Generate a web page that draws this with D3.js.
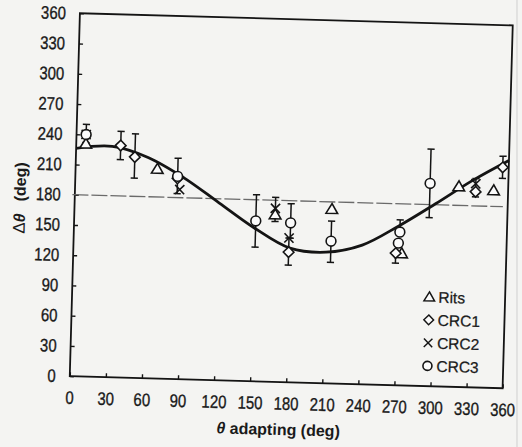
<!DOCTYPE html>
<html><head><meta charset="utf-8">
<script src="https://cdn.jsdelivr.net/npm/d3@7"></script>
<style>
html,body{margin:0;padding:0;background:#f4f4f2;}
svg{display:block;}
text{font-family:"Liberation Sans",Arial,Helvetica,sans-serif;fill:#1a1a1a;}
</style></head><body>
<svg id="chart" width="522" height="447"></svg>
<script>
// ---- data ----
const xTicks = [0,30,60,90,120,150,180,210,240,270,300,330,360];
const yTicks = [0,30,60,90,120,150,180,210,240,270,300,330,360];

const ritsX = [8, 68, 167, 214, 273, 319, 348];
const ritsY = [231, 208, 166, 173, 131, 199, 196];

const crc1X  = [37, 49, 85, 179, 268, 333, 355];
const crc1Y  = [230, 219, 199, 129, 131, 194, 219];
const crc1Lo = [216, 198, null, 116, 121, null, 208];
const crc1Hi = [244, 242, null, 143, null, null, 230];

const crc2X  = [8, 87, 167, 179, 333];
const crc2Y  = [240, 188, 172, 143, 202];
const crc2Lo = [null, null, 159, null, 189];
const crc2Hi = [null, null, 183, null, 207];

const crc3X  = [8, 85, 151, 180, 214, 271, 270, 295];
const crc3Y  = [240, 201, 159, 158, 141, 152, 141, 201];
const crc3Lo = [232, 184, 133, 143, 120, null, null, 167];
const crc3Hi = [250, 219, 185, 177, 161, 164, null, 235];

const fitX = [0, 30, 60, 90, 120, 150, 180, 210, 240, 270, 300, 330, 360];
const fitY = [226, 229, 219, 200, 176, 152, 133, 130, 138, 158, 181, 205, 226];

const refValue = 180;
const refFrom = -2, refTo = 356;

const legendLabels = ["Rits", "CRC1", "CRC2", "CRC3"];
const legendShapes = ["triangle", "diamond", "x", "circle"];

// ---- layout ----
const W = 522, H = 447;
const L = 74.75, R = 507.75, T = 19.25, B = 382.25;
const tilt = 1.6, cx = 291.25, cy = 200.75;

const x = d3.scaleLinear().domain([0, 360]).range([L, R]);
const y = d3.scaleLinear().domain([0, 360]).range([B, T]);

const svg = d3.select("#chart");
svg.append("line").attr("x1", 517).attr("x2", 517).attr("y1", 0).attr("y2", H)
  .attr("stroke", "#cfcfcf").attr("stroke-width", 1);

const g = svg.append("g").attr("transform", `rotate(${tilt},${cx},${cy})`);

const ink = "#141414";

// axes
const xAxis = d3.axisBottom(x).tickValues(xTicks).tickSizeInner(-4).tickSizeOuter(0).tickPadding(15);
const yAxis = d3.axisLeft(y).tickValues(yTicks).tickSizeInner(-4).tickSizeOuter(0).tickPadding(14);

const gx = g.append("g").attr("transform", `translate(0,${B})`).call(xAxis);
const gy = g.append("g").attr("transform", `translate(${L},0)`).call(yAxis);
[gx, gy].forEach(a => {
  a.select(".domain").remove();
  a.selectAll(".tick line").attr("stroke", ink).attr("stroke-width", 1.4);
  a.selectAll(".tick text")
    .attr("font-size", 18)
    .attr("font-family", '"Liberation Sans",Arial,sans-serif')
    .attr("fill", "#161616")
    .attr("stroke", "#161616").attr("stroke-width", 0.35)
    .attr("textLength", d => String(d).length * 8.3)
    .attr("lengthAdjust", "spacingAndGlyphs");
});

// frame
g.append("rect").attr("x", L).attr("y", T).attr("width", R - L).attr("height", B - T)
  .attr("fill", "none").attr("stroke", ink).attr("stroke-width", 1.8);

// reference line
g.append("line")
  .attr("x1", x(refFrom)).attr("x2", x(refTo))
  .attr("y1", y(refValue)).attr("y2", y(refValue))
  .attr("stroke", "#6a6a6a").attr("stroke-width", 1.3).attr("stroke-dasharray", "16,3");

// fitted curve
const fit = fitX.map((v, i) => [v, fitY[i]]);
g.append("path").datum(fit)
  .attr("d", d3.line().x(d => x(d[0])).y(d => y(d[1])).curve(d3.curveCatmullRom.alpha(0.5)))
  .attr("fill", "none").attr("stroke", ink).attr("stroke-width", 2.8);

// markers
function shapePath(kind) {
  if (kind === "triangle") return "M0,-5.4L5.8,4.4L-5.8,4.4Z";
  if (kind === "diamond") return "M0,-5.3L5.3,0L0,5.3L-5.3,0Z";
  if (kind === "x") return "M-4.6,-4.6L4.6,4.6M-4.6,4.6L4.6,-4.6";
  return null;
}
function drawMarker(sel, kind, px, py, scale) {
  scale = scale || 1;
  if (kind === "circle") {
    sel.append("circle").attr("cx", px).attr("cy", py).attr("r", 4.9 * scale)
      .attr("fill", "#fbfbfb").attr("stroke", ink).attr("stroke-width", 1.6);
  } else {
    sel.append("path").attr("d", shapePath(kind))
      .attr("transform", `translate(${px},${py}) scale(${scale})`)
      .attr("fill", kind === "x" ? "none" : "#fbfbfb")
      .attr("stroke", ink).attr("stroke-width", 1.6);
  }
}

const series = [
  {kind: "triangle", xs: ritsX, ys: ritsY, lo: null, hi: null},
  {kind: "diamond", xs: crc1X, ys: crc1Y, lo: crc1Lo, hi: crc1Hi},
  {kind: "x", xs: crc2X, ys: crc2Y, lo: crc2Lo, hi: crc2Hi},
  {kind: "circle", xs: crc3X, ys: crc3Y, lo: crc3Lo, hi: crc3Hi}
];

// error bars
const eb = g.append("g").attr("stroke", ink).attr("stroke-width", 1.5);
series.forEach(s => {
  if (!s.lo) return;
  s.xs.forEach((xv, i) => {
    const lo = s.lo[i] == null ? s.ys[i] : s.lo[i];
    const hi = s.hi[i] == null ? s.ys[i] : s.hi[i];
    if (lo === hi) return;
    const px = x(xv);
    eb.append("line").attr("x1", px).attr("x2", px).attr("y1", y(lo)).attr("y2", y(hi));
    if (s.lo[i] != null) eb.append("line").attr("x1", px - 3.6).attr("x2", px + 3.6).attr("y1", y(lo)).attr("y2", y(lo));
    if (s.hi[i] != null) eb.append("line").attr("x1", px - 3.6).attr("x2", px + 3.6).attr("y1", y(hi)).attr("y2", y(hi));
  });
});

const mk = g.append("g");
series.forEach(s => {
  s.xs.forEach((xv, i) => drawMarker(mk, s.kind, x(xv), y(s.ys[i])));
});

// legend
const lg = g.append("g");
const legX = 432, legTextX = 441, legY0 = 293, legStep = 23;
legendLabels.forEach((lab, i) => {
  const yy = legY0 + i * legStep;
  drawMarker(lg, legendShapes[i], legX, yy, 0.92);
  lg.append("text").attr("x", legTextX).attr("y", yy).attr("dy", "0.36em")
    .attr("font-size", 15.5).attr("stroke", "#1a1a1a").attr("stroke-width", 0.25).text(lab);
});

// axis titles
const ylab = g.append("text")
  .attr("transform", `translate(25.5,205.5) rotate(-90)`)
  .attr("text-anchor", "middle").attr("font-size", 16).attr("font-weight", "bold");
ylab.append("tspan").attr("font-weight", "normal").attr("font-size", 17).text("Δ");
ylab.append("tspan").attr("font-style", "italic").text("θ");
ylab.append("tspan").attr("dx", 12).text("(deg)");

const xlab = g.append("text")
  .attr("x", 284.5).attr("y", 435.3)
  .attr("text-anchor", "middle").attr("font-size", 16).attr("font-weight", "bold");
xlab.append("tspan").attr("font-style", "italic").text("θ");
xlab.append("tspan").text(" adapting (deg)");
</script>
</body></html>
